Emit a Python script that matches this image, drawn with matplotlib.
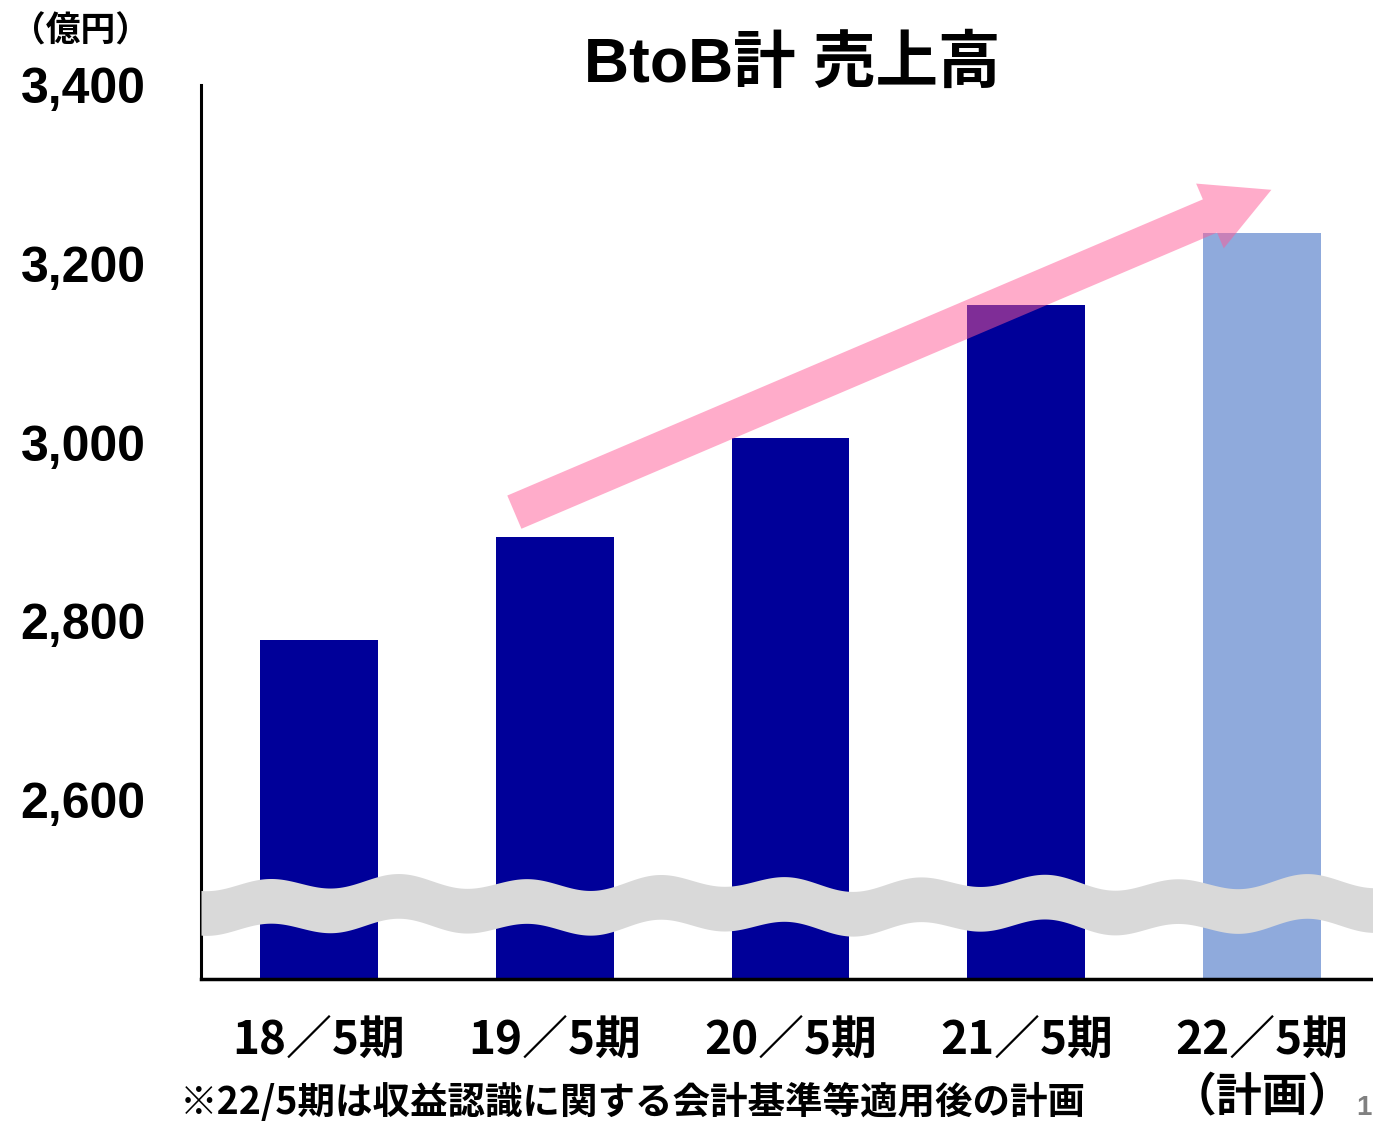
import matplotlib.pyplot as plt
import numpy as np
from matplotlib.patches import FancyArrowPatch

plt.rcParams['font.family'] = ['Liberation Sans', 'Noto Sans CJK JP', 'DejaVu Sans']
plt.rcParams['font.weight'] = 'bold'
CJK = ['Noto Sans CJK JP', 'DejaVu Sans']

# データ
periods = ['18／5期', '19／5期', '20／5期', '21／5期', '22／5期\n（計画）']
sales = [2779, 2894, 3005, 3154, 3234]
colors = ['#000099', '#000099', '#000099', '#000099', '#8FAADC']
yticks = [2600, 2800, 3000, 3200, 3400]

fig = plt.figure(figsize=(13.73, 11.23), dpi=100)
ax = fig.add_axes([0.1464, 0.1282, 0.8536, 0.7961])

x = np.arange(len(periods))
ax.bar(x, sales, width=0.5, color=colors, zorder=2)

ax.set_xlim(-0.5, 4.47)
ax.set_ylim(2400, 3400)
ax.set_yticks(yticks)
ax.set_yticklabels([f'{v:,}' for v in yticks], fontsize=36)
ax.set_xticks(x)
ax.set_xticklabels(periods, fontsize=33, linespacing=1.3, family=CJK)
ax.tick_params(axis='y', length=0, pad=40)
ax.tick_params(axis='x', length=0, pad=28)

for s in ['top', 'right']:
    ax.spines[s].set_visible(False)
ax.spines['left'].set_linewidth(2.2)
ax.spines['bottom'].set_linewidth(2.5)

# 省略記号（波線）
xx = np.linspace(-0.5, 4.47, 600)
wave = 2483 + 7 * np.sin(2 * np.pi * (xx + 0.35) / 0.55) + 3 * np.sin(2 * np.pi * xx / 1.3)
ax.fill_between(xx, wave - 25, wave + 25, color='#D9D9D9', zorder=3, lw=0)

# 矢印
arr = FancyArrowPatch((0.818, 2921), (4.05, 3284),
                      arrowstyle='simple,head_length=1.85,head_width=1.95,tail_width=1.0',
                      mutation_scale=26, color='#FF5A96', alpha=0.5, lw=0, zorder=4)
ax.add_patch(arr)

fig.text(0.577, 0.942, 'BtoB計 売上高', fontsize=45, ha='center', va='center')
fig.text(0.008, 0.972, '（億円）', fontsize=25, ha='left', va='center', family=CJK)
fig.text(0.131, 0.018, '※22/5期は収益認識に関する会計基準等適用後の計画',
         fontsize=27, ha='left', va='center', family=CJK)
fig.text(0.988, 0.013, '1', fontsize=20, color='#808080', ha='left', va='center')

fig.savefig('out.png', dpi=100)
